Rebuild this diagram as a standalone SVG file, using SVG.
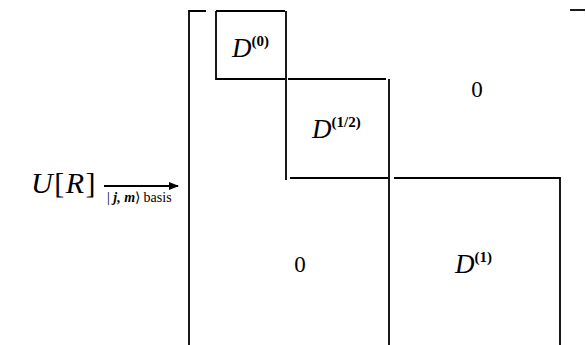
<svg xmlns="http://www.w3.org/2000/svg" width="586" height="345" viewBox="0 0 586 345">
<style>
.ln{stroke:#000;stroke-width:1.8;fill:none}
.t{font-family:"Liberation Serif",serif;fill:#000}
.it{font-style:italic}
.sup{font-size:15px;font-weight:bold}
</style>
<defs>
<marker id="ah" markerWidth="10" markerHeight="8" refX="9" refY="4" orient="auto" markerUnits="userSpaceOnUse">
<path d="M0,0 L10,4 L0,8 Z" fill="#000"/>
</marker>
</defs>
<rect width="586" height="345" fill="#fff"/>
<g id="label">
<text class="t" x="31" y="193" font-size="30" letter-spacing="1.5"><tspan class="it">U</tspan>[<tspan class="it">R</tspan>]</text>
<text class="t" x="107" y="202" font-size="14"><tspan>| </tspan><tspan class="it" font-weight="bold">j, m</tspan><tspan>⟩  basis</tspan></text>
</g>
<g id="connectors">
<line class="ln" x1="104" y1="186" x2="178" y2="186" marker-end="url(#ah)"/>
</g>
<g id="matrix">
<path class="ln" d="M206,11 H189 V345"/>
<path class="ln" d="M570,10 H585"/>
<path class="ln" d="M286,11 V180"/>
<path class="ln" d="M288,79 H386"/>
<path class="ln" d="M389,79 V345"/>
<path class="ln" d="M290,178 H388"/>
<path class="ln" d="M394,178 H560 V345"/>
</g>
<g id="D0">
<path class="ln" d="M216,11 H285 M216,11 V79 H285"/>
<text class="t" x="232" y="57" font-size="27"><tspan class="it">D</tspan><tspan class="sup" dy="-11">(0)</tspan></text>
</g>
<g id="D12">
<text class="t" x="312" y="138" font-size="27"><tspan class="it">D</tspan><tspan class="sup" dy="-11">(1/2)</tspan></text>
</g>
<g id="zeroTop">
<text class="t" x="477" y="97" font-size="23" text-anchor="middle">0</text>
</g>
<g id="zeroBottom">
<text class="t" x="300" y="272" font-size="23" text-anchor="middle">0</text>
</g>
<g id="D1">
<text class="t" x="455" y="273" font-size="27"><tspan class="it">D</tspan><tspan class="sup" dy="-11">(1)</tspan></text>
</g>
</svg>
